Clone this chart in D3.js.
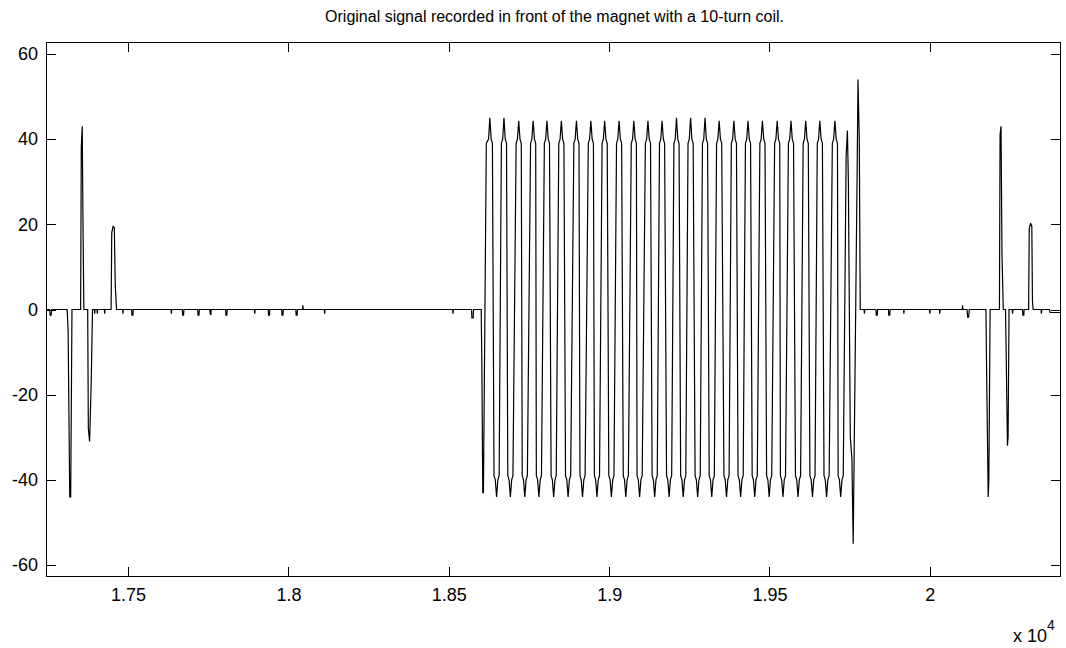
<!DOCTYPE html>
<html>
<head>
<meta charset="utf-8">
<script src="https://cdn.jsdelivr.net/npm/d3@7"></script>
<style>
  html, body { margin: 0; padding: 0; background: #fff; }
  svg { display: block; }
  text { font-family: "Liberation Sans", Arial, Helvetica, sans-serif; fill: #000; }
</style>
</head>
<body>
<svg id="chart" width="1066" height="648"></svg>
<script>
// ---- data (sample index, amplitude) ----
const titleText = "Original signal recorded in front of the magnet with a 10-turn coil.";
const xTickValues = [17500, 18000, 18500, 19000, 19500, 20000];
const xTickLabels = ["1.75", "1.8", "1.85", "1.9", "1.95", "2"];
const yTickValues = [-60, -40, -20, 0, 20, 40, 60];
const yTickLabels = ["-60", "-40", "-20", "0", "20", "40", "60"];
const xDomain = [17244, 20409];
const yDomain = [-62.8, 62.8];

// quiet stretch + first burst (left)
const leftSignal = [
  [17244, 0], [17255, 0], [17257, -1.3], [17260, -1.3], [17262, 0],
  [17310, 0], [17313, -5], [17318, -44], [17321, -44], [17325, 0],
  [17352, 0], [17354, 38], [17357, 43], [17359, 23], [17362, 0],
  [17374, 0], [17376, -28], [17380, -31], [17385, -17], [17389, 0],
  [17395, 0], [17396, -1], [17397, 0], [17403, 0], [17404, -1], [17405, 0],
  [17426, 0], [17427, -1], [17428, 0],
  [17447, 0], [17449, 18], [17453, 19.5], [17457, 19.3], [17460, 5.6], [17464, 0],
  [17483, 0], [17484, -1], [17485, 0],
  [17511, 0], [17512, -1.3], [17515, -1.3], [17516, 0],
  [17634, 0], [17635, -1], [17636, 0],
  [17669, 0], [17670, -1.3], [17673, -1.3], [17674, 0],
  [17717, 0], [17718, -1.3], [17721, -1.3], [17722, 0],
  [17755, 0], [17756, -1], [17758, -1.3], [17759, 0],
  [17804, 0], [17805, -1.3], [17808, -1.3], [17809, 0],
  [17894, 0], [17895, -1], [17896, 0],
  [17937, 0], [17938, -1.3], [17941, -1.3], [17942, 0],
  [17979, 0], [17980, -1.3], [17983, -1.3], [17984, 0],
  [18023, 0], [18024, -1.3], [18027, -1.3], [18028, 0],
  [18044, 0], [18045, 1], [18046, 0],
  [18112, 0], [18113, -1], [18114, 0],
  [18512, 0], [18513, -1], [18514, 0],
  [18571, 0], [18572, -2], [18576, -2], [18577, 0],
  [18601, 0], [18603, -12], [18606, -43], [18608, -43]
];

// oscillating section: side, shoulder, tip, shoulder, side of every peak and trough
const waveSignal = [
  [18617, 39], [18624, 40], [18628, 45], [18632, 40], [18636, 39],
  [18641, -39], [18645, -40], [18649, -44], [18653, -40], [18657, -39],
  [18664, 39], [18668, 40], [18672, 45], [18676, 40], [18680, 39],
  [18684, -39], [18688, -40], [18692, -44], [18696, -40], [18700, -39],
  [18710, 39], [18714, 40], [18718, 44.3], [18722, 40], [18726, 39],
  [18729, -39], [18733, -40], [18737, -44], [18741, -40], [18745, -39],
  [18755, 39], [18759, 40], [18763, 44.3], [18767, 40], [18771, 39],
  [18773, -39], [18777, -40], [18781, -44], [18785, -40], [18789, -39],
  [18798, 39], [18802, 40], [18806, 44.3], [18810, 40], [18814, 39],
  [18819, -39], [18823, -40], [18827, -44], [18831, -40], [18835, -39],
  [18843, 39], [18847, 40], [18851, 44.3], [18855, 40], [18859, 39],
  [18864, -39], [18868, -40], [18872, -44], [18876, -40], [18880, -39],
  [18890, 39], [18894, 40], [18898, 44.3], [18902, 40], [18906, 39],
  [18909, -39], [18913, -40], [18917, -44], [18921, -40], [18925, -39],
  [18935, 39], [18939, 40], [18943, 44.3], [18947, 40], [18951, 39],
  [18954, -39], [18958, -40], [18962, -44], [18966, -40], [18970, -39],
  [18978, 39], [18982, 40], [18986, 44.3], [18990, 40], [18994, 39],
  [18999, -39], [19003, -40], [19007, -44], [19011, -40], [19015, -39],
  [19023, 39], [19027, 40], [19031, 44.3], [19035, 40], [19039, 39],
  [19044, -39], [19048, -40], [19052, -44], [19056, -40], [19060, -39],
  [19069, 39], [19073, 40], [19077, 44.3], [19081, 40], [19085, 39],
  [19087, -39], [19091, -40], [19095, -44], [19099, -40], [19103, -39],
  [19113, 39], [19117, 40], [19121, 44.3], [19125, 40], [19129, 39],
  [19134, -39], [19138, -40], [19142, -44], [19146, -40], [19150, -39],
  [19157, 39], [19161, 40], [19165, 44.3], [19169, 40], [19173, 39],
  [19179, -39], [19183, -40], [19187, -44], [19191, -40], [19195, -39],
  [19202, 39], [19206, 40], [19210, 45], [19214, 40], [19218, 39],
  [19223, -39], [19227, -40], [19231, -44], [19235, -40], [19239, -39],
  [19246, 39], [19250, 40], [19254, 45], [19258, 40], [19262, 39],
  [19268, -39], [19272, -40], [19276, -44], [19280, -40], [19284, -39],
  [19291, 39], [19295, 40], [19299, 45], [19303, 40], [19307, 39],
  [19312, -39], [19316, -40], [19320, -44], [19324, -40], [19328, -39],
  [19335, 39], [19339, 40], [19343, 44.3], [19347, 40], [19351, 39],
  [19358, -39], [19362, -40], [19366, -44], [19370, -40], [19374, -39],
  [19381, 39], [19385, 40], [19389, 44.3], [19393, 40], [19397, 39],
  [19402, -39], [19406, -40], [19410, -44], [19414, -40], [19418, -39],
  [19425, 39], [19429, 40], [19433, 44.3], [19437, 40], [19441, 39],
  [19446, -39], [19450, -40], [19454, -44], [19458, -40], [19462, -39],
  [19470, 39], [19474, 40], [19478, 44.3], [19482, 40], [19486, 39],
  [19491, -39], [19495, -40], [19499, -44], [19503, -40], [19507, -39],
  [19516, 39], [19520, 40], [19524, 44.3], [19528, 40], [19532, 39],
  [19534, -39], [19538, -40], [19542, -44], [19546, -40], [19550, -39],
  [19559, 39], [19563, 40], [19567, 44.3], [19571, 40], [19575, 39],
  [19581, -39], [19585, -40], [19589, -44], [19593, -40], [19597, -39],
  [19605, 39], [19609, 40], [19613, 44.3], [19617, 40], [19621, 39],
  [19626, -39], [19630, -40], [19634, -44], [19638, -40], [19642, -39],
  [19649, 39], [19653, 40], [19657, 44.3], [19661, 40], [19665, 39],
  [19670, -39], [19674, -40], [19678, -44], [19682, -40], [19686, -39],
  [19696, 39], [19700, 40], [19704, 44.3], [19708, 40], [19712, 39],
  [19714, -39], [19718, -40], [19722, -44], [19726, -40], [19730, -39],
  [19739, 36], [19743, 42], [19746, 30],
  [19752, -30], [19757, -35], [19761, -55], [19766, -20],
  [19773, 30], [19776, 54], [19780, 40], [19783, 0]
];

// quiet stretch + second burst (right)
const rightSignal = [
  [19795, 0], [19796, -1], [19797, 0],
  [19832, 0], [19833, -1.3], [19836, -1.3], [19837, 0],
  [19871, 0], [19872, -1.3], [19875, -1.3], [19876, 0],
  [19918, 0], [19919, -1], [19920, 0],
  [19999, 0], [20000, -1], [20001, 0],
  [20030, 0], [20031, -1], [20032, 0],
  [20101, 0], [20102, 1], [20103, 0],
  [20116, 0], [20118, -1.8], [20121, -1.8], [20123, 0],
  [20175, 0], [20177, -14], [20182, -44], [20184, -40], [20188, 0],
  [20217, 0], [20219, 41], [20222, 43], [20225, 13], [20229, 0],
  [20236, 0], [20238, -10], [20242, -32], [20244, -30], [20247, 0],
  [20257, 0], [20258, -1], [20259, 0],
  [20289, 0], [20290, -1.3], [20293, -1.3], [20294, 0],
  [20308, 0], [20310, 19], [20314, 20.3], [20318, 19.5], [20320, 2], [20322, 0],
  [20347, 0], [20348, -1], [20349, 0],
  [20373, 0], [20375, -0.7], [20409, -0.7]
];

const signal = leftSignal.concat(waveSignal, rightSignal);

// ---- layout ----
const W = 1066, H = 648;
const plot = { left: 46, right: 1061, top: 42, bottom: 577 };

const svg = d3.select("#chart");
svg.append("rect").attr("width", W).attr("height", H).attr("fill", "#fff");

const x = d3.scaleLinear().domain(xDomain).range([plot.left, plot.right]);
const y = d3.scaleLinear().domain(yDomain).range([plot.bottom, plot.top]);

svg.append("clipPath").attr("id", "clip")
  .append("rect")
  .attr("x", plot.left).attr("y", plot.top)
  .attr("width", plot.right - plot.left).attr("height", plot.bottom - plot.top);

const line = d3.line()
  .x(d => x(d[0]))
  .y(d => y(d[1]));

svg.append("path")
  .datum(signal)
  .attr("clip-path", "url(#clip)")
  .attr("d", line)
  .attr("fill", "none")
  .attr("stroke", "#000")
  .attr("stroke-width", 1.2)
  .attr("stroke-linejoin", "miter")
  .attr("stroke-miterlimit", 2);

const fontSize = 18;
const xAxisBottom = d3.axisBottom(x)
  .tickValues(xTickValues)
  .tickFormat((d, i) => xTickLabels[i])
  .tickSizeInner(-10).tickSizeOuter(0).tickPadding(11);
const xAxisTop = d3.axisTop(x)
  .tickValues(xTickValues).tickFormat("")
  .tickSizeInner(-10).tickSizeOuter(0);
const yAxisLeft = d3.axisLeft(y)
  .tickValues(yTickValues)
  .tickFormat((d, i) => yTickLabels[i])
  .tickSizeInner(-10).tickSizeOuter(0).tickPadding(8);
const yAxisRight = d3.axisRight(y)
  .tickValues(yTickValues).tickFormat("")
  .tickSizeInner(-10).tickSizeOuter(0);

function styleAxis(g) {
  g.select(".domain").remove();
  g.selectAll(".tick line").attr("stroke", "#000").attr("shape-rendering", "crispEdges");
  g.selectAll(".tick text")
    .attr("font-size", fontSize)
    .attr("font-family", "'Liberation Sans', Arial, Helvetica, sans-serif")
    .attr("fill", "#222");
}

svg.append("g").attr("transform", `translate(0,${plot.bottom})`).call(xAxisBottom).call(styleAxis);
svg.append("g").attr("transform", `translate(0,${plot.top})`).call(xAxisTop).call(styleAxis);
svg.append("g").attr("transform", `translate(${plot.left},0)`).call(yAxisLeft).call(styleAxis);
svg.append("g").attr("transform", `translate(${plot.right},0)`).call(yAxisRight).call(styleAxis);

svg.append("rect")
  .attr("x", plot.left + 0.5).attr("y", plot.top + 0.5)
  .attr("width", plot.right - plot.left - 1).attr("height", plot.bottom - plot.top - 1)
  .attr("fill", "none").attr("stroke", "#000").attr("stroke-width", 1)
  .attr("shape-rendering", "crispEdges");

svg.append("text")
  .attr("x", (plot.left + plot.right) / 2 + 1)
  .attr("y", 22)
  .attr("text-anchor", "middle")
  .attr("font-size", 16)
  .attr("fill", "#222")
  .text(titleText);

const expo = svg.append("text")
  .attr("x", 1013)
  .attr("y", 642)
  .attr("font-size", fontSize)
  .attr("fill", "#222");
expo.append("tspan").text("x 10");
expo.append("tspan").attr("dy", -12).attr("font-size", 14).text("4");
</script>
</body>
</html>
